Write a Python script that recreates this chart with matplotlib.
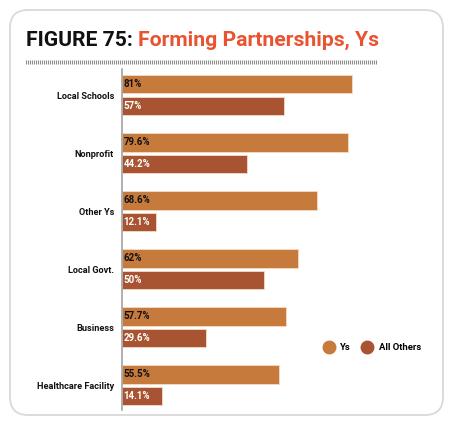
import matplotlib

matplotlib.use("Agg")
import matplotlib.pyplot as plt
import numpy as np
from matplotlib.lines import Line2D
from matplotlib.patches import FancyBboxPatch

categories = [
    "Local Schools",
    "Nonprofit",
    "Other Ys",
    "Local Govt.",
    "Business",
    "Healthcare Facility",
]
ys_values = [81, 79.6, 68.6, 62, 57.7, 55.5]
others_values = [57, 44.2, 12.1, 50, 29.6, 14.1]
ys_labels = ["81%", "79.6%", "68.6%", "62%", "57.7%", "55.5%"]
others_labels = ["57%", "44.2%", "12.1%", "50%", "29.6%", "14.1%"]
series_names = ["Ys", "All Others"]

YS_COLOR = "#c67a3c"
OTHERS_COLOR = "#a85432"
TITLE_RED = "#e9532f"

W, H = 456, 428
fig = plt.figure(figsize=(W / 100, H / 100), dpi=100)


def px(x0, y0, x1, y1):
    # pixel box (top-left origin) -> figure fraction rect
    return [x0 / W, 1 - y1 / H, (x1 - x0) / W, (y1 - y0) / H]


# decoration layer in pixel coordinates
deco = fig.add_axes([0, 0, 1, 1])
deco.set_xlim(0, W)
deco.set_ylim(H, 0)
deco.axis("off")
deco.add_patch(
    FancyBboxPatch(
        (10, 10),
        433,
        405,
        boxstyle="round,pad=0,rounding_size=18",
        facecolor="white",
        edgecolor="#d9d9d9",
        linewidth=1.3,
    )
)
ticks_x = np.arange(26, 378, 2.0)
deco.vlines(ticks_x, 59.5, 64, color="#8f8f8f", linewidth=0.8)

# title in two colours, sized to span the same width as the reference
title_font = dict(fontweight="bold", family="Roboto", va="baseline", ha="left")
size = 17
renderer = fig.canvas.get_renderer()
t1 = deco.text(26, 46, "FIGURE 75:", fontsize=size, color="#111111", **title_font)
t2 = deco.text(0, 46, "Forming Partnerships, Ys", fontsize=size, color=TITLE_RED, **title_font)
w1 = t1.get_window_extent(renderer).width
w2 = t2.get_window_extent(renderer).width
scale = 352 / (w1 + w2 + 5)
size = size * scale
t1.set_fontsize(size)
t2.set_fontsize(size)
w1 = t1.get_window_extent(renderer).width
t2.set_x(26 + w1 + 5)

# bar chart
ax = fig.add_axes(px(121.7, 69, 406, 410))
y = np.arange(len(categories))
off = 0.188
h = 0.32
ax.barh(y - off, ys_values, height=h, color=YS_COLOR, edgecolor="#f4dcc6", linewidth=0.6)
ax.barh(y + off, others_values, height=h, color=OTHERS_COLOR, edgecolor="#f4dcc6", linewidth=0.6)
ax.set_xlim(0, 100)
ax.set_ylim(5.426, -0.45)

for i in range(len(categories)):
    ax.text(0.6, y[i] - off, ys_labels[i], fontsize=7, fontweight="bold",
            family="Roboto", color="#111111", va="center", ha="left")
    ax.text(0.6, y[i] + off, others_labels[i], fontsize=7, fontweight="bold",
            family="Roboto", color="white", va="center", ha="left")

ax.set_yticks(y)
ax.set_yticklabels(categories, fontsize=6.6, fontweight="bold", family="Roboto", color="#111111")
ax.tick_params(axis="y", length=0, pad=5.5)
ax.set_xticks([])
for s in ["top", "right", "bottom"]:
    ax.spines[s].set_visible(False)
ax.spines["left"].set_color("#9a9a9a")
ax.spines["left"].set_linewidth(1.1)
ax.patch.set_alpha(0)

handles = [
    Line2D([], [], marker="o", linestyle="", markersize=9, color=c)
    for c in [YS_COLOR, OTHERS_COLOR]
]
leg = fig.legend(
    handles, series_names, loc="center left",
    bbox_to_anchor=(313 / W, 1 - 347.5 / H), ncol=2, frameon=False,
    prop={"family": "Roboto", "weight": "bold", "size": 6.8},
    handletextpad=0.5, columnspacing=0.9, handlelength=1.5,
)

fig.savefig("out.png", dpi=100)
